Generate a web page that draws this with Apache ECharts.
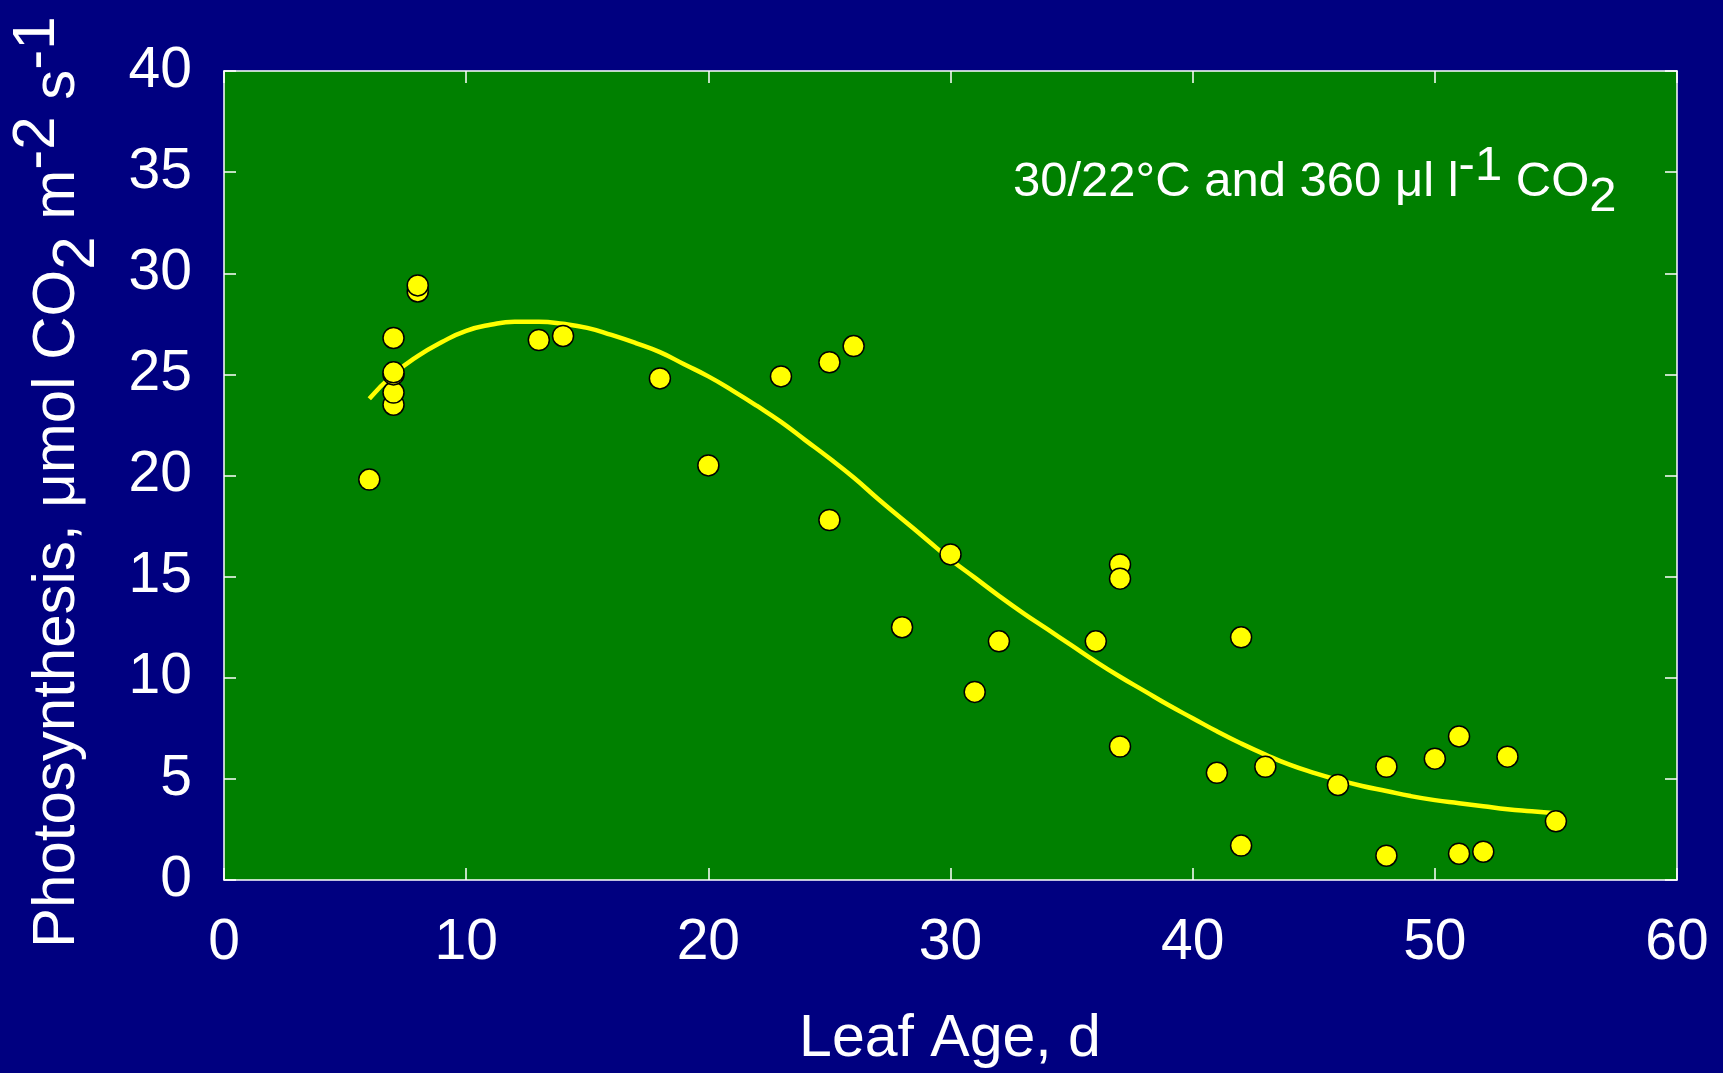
<!DOCTYPE html>
<html>
<head>
<meta charset="utf-8">
<script src="https://cdn.jsdelivr.net/npm/echarts@6/dist/echarts.min.js"></script>
<style>
    html, body { margin: 0; padding: 0; background: #000080; }
    #main { width: 1723px; height: 1073px; }
</style>
</head>
<body>
<div id="main"></div>
<script>
    // measured points: leaf age (d) and photosynthesis
    var leafAge = [6, 7, 7, 7, 7, 7, 8, 8, 13, 14, 18, 20, 23, 25, 25, 26, 28, 30, 31, 32,
        36, 37, 37, 37, 41, 42, 42, 43, 46, 48, 48, 50, 51, 51, 52, 53, 55];
    var photoRate = [19.8, 23.5, 24.1, 25.0, 25.1, 26.8, 29.1, 29.4, 26.7, 26.9, 24.8, 20.5, 24.9, 25.6, 17.8, 26.4, 12.5, 16.1, 9.3, 11.8,
        11.8, 15.6, 14.9, 6.6, 5.3, 12.0, 1.7, 5.6, 4.7, 5.6, 1.2, 6.0, 7.1, 1.3, 1.4, 6.1, 2.9];

    // fitted curve
    var fitAge = [6, 7, 8, 9, 10, 11, 12, 13, 14, 15, 16, 17, 18, 19, 20, 21, 22, 23, 24, 25,
        26, 27, 28, 29, 30, 31, 32, 33, 34, 35, 36, 37, 38, 39, 40, 41, 42, 43, 44, 45,
        46, 47, 48, 49, 50, 51, 52, 53, 54, 55];
    var fitRate = [23.8, 25.0, 25.9, 26.6, 27.15, 27.45, 27.6, 27.6, 27.5, 27.3, 26.95, 26.55, 26.1, 25.5, 24.9, 24.2, 23.45, 22.65, 21.75, 20.85,
        19.9, 18.85, 17.85, 16.85, 15.85, 14.95, 14.05, 13.2, 12.4, 11.6, 10.8, 10.05, 9.35, 8.65, 8.0, 7.35, 6.75, 6.2, 5.7, 5.3,
        4.95, 4.65, 4.4, 4.15, 3.95, 3.8, 3.65, 3.5, 3.4, 3.3];

    var xTicks = [0, 60, 10];
    var yTicks = [0, 40, 5];

    var font = 'Liberation Sans, Arial, sans-serif';

    var points = leafAge.map(function (a, i) { return [a, photoRate[i]]; });
    var curve = fitAge.map(function (a, i) { return [a, fitRate[i]]; });

    function axisBase(pos, ticks, showLabel, margin) {
        return {
            type: 'value',
            position: pos,
            min: ticks[0], max: ticks[1], interval: ticks[2],
            axisLine: { show: true, onZero: false, lineStyle: { color: '#ffffff', width: 1.5 } },
            axisTick: { show: true, inside: true, length: 12, lineStyle: { color: '#ffffff', width: 1.5 } },
            axisLabel: { show: showLabel, color: '#ffffff', fontSize: 57, fontFamily: font, margin: margin },
            splitLine: { show: false }
        };
    }

    var myChart = echarts.init(document.getElementById('main'), null, { renderer: 'canvas' });
    var option = {
        animation: false,
        backgroundColor: '#000080',
        grid: {
            left: 224, right: 46, top: 71, bottom: 193,
            show: true, backgroundColor: '#008000', borderWidth: 0
        },
        xAxis: [axisBase('bottom', xTicks, true, 35), axisBase('top', xTicks, false, 8)],
        yAxis: [axisBase('left', yTicks, true, 32), axisBase('right', yTicks, false, 8)],
        graphic: [
            {
                type: 'text', x: 950, y: 1040,
                style: {
                    text: 'Leaf Age, d', fill: '#ffffff', fontSize: 59, fontFamily: font,
                    align: 'center', verticalAlign: 'middle'
                }
            },
            {
                type: 'text', x: 57, y: 948, rotation: Math.PI / 2,
                style: {
                    text: '{a|Photosynthesis, μmol CO}{sub|2}{a| m}{sup|-2}{a| s}{sup|-1}',
                    fill: '#ffffff', fontSize: 60, fontFamily: font,
                    align: 'left', verticalAlign: 'middle',
                    rich: {
                        a: { fill: '#ffffff', fontSize: 60, fontFamily: font, lineHeight: 100 },
                        sup: { fill: '#ffffff', fontSize: 60, fontFamily: font, lineHeight: 58, verticalAlign: 'top' },
                        sub: { fill: '#ffffff', fontSize: 60, fontFamily: font, lineHeight: 76, verticalAlign: 'bottom' }
                    }
                }
            },
            {
                type: 'text', x: 1013, y: 182,
                style: {
                    text: '{a|30/22°C and 360 μl l}{sup|-1}{a| CO}{sub|2}',
                    fill: '#ffffff', fontSize: 49, fontFamily: font,
                    align: 'left', verticalAlign: 'middle',
                    rich: {
                        a: { fill: '#ffffff', fontSize: 49, fontFamily: font, lineHeight: 80 },
                        sup: { fill: '#ffffff', fontSize: 49, fontFamily: font, lineHeight: 56, verticalAlign: 'top' },
                        sub: { fill: '#ffffff', fontSize: 49, fontFamily: font, lineHeight: 64, verticalAlign: 'bottom' }
                    }
                }
            }
        ],
        series: [
            {
                name: 'fit',
                type: 'line',
                data: curve,
                smooth: 0.5,
                showSymbol: false,
                lineStyle: { color: '#ffff00', width: 4.5 },
                z: 2
            },
            {
                name: 'measured',
                type: 'scatter',
                data: points,
                symbol: 'circle',
                symbolSize: 21,
                itemStyle: { color: '#ffff00', borderColor: '#000000', borderWidth: 1.5, opacity: 1 },
                z: 3
            }
        ]
    };
    myChart.setOption(option);
</script>
</body>
</html>
